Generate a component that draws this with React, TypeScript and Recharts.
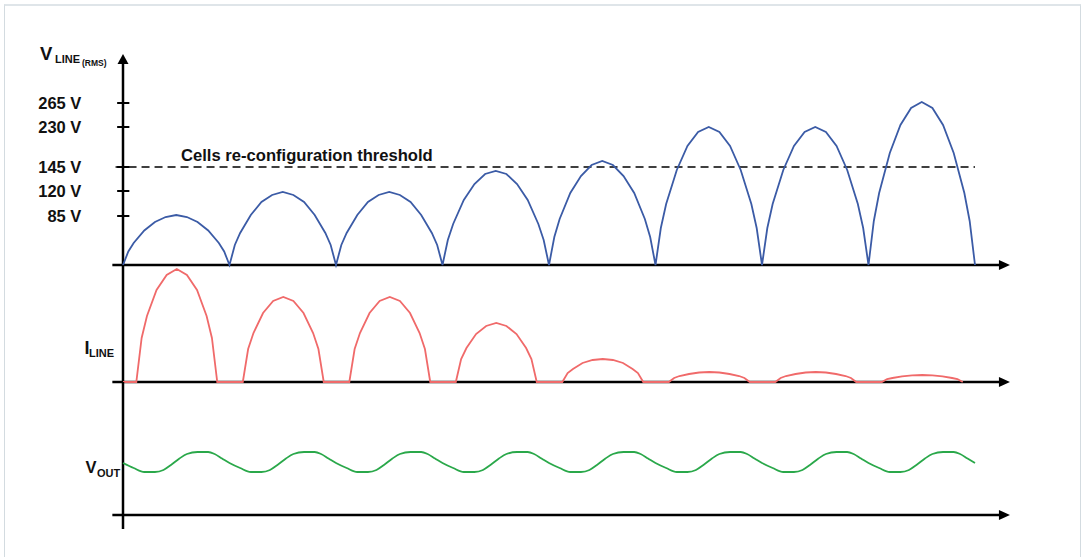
import React from 'react';
import { LineChart, Line, XAxis, YAxis, ReferenceLine, ReferenceDot, Label } from 'recharts';

// time runs in half-cycles of 10 units each, 8 half-cycles shown
const PERIOD = 10;

// V_LINE (rectified), one row per half-cycle, sampled at these offsets
const vLineOffsets = [0, 0.5, 1, 2, 3, 4, 5, 6, 7, 8, 9, 9.5, 10];
const vLineHumps = [
  [0, 13.5, 22, 34.5, 43, 48, 50, 48, 43, 34.5, 22, 13.5, 0],
  [0, 20, 32, 50, 63, 70, 73, 70, 63, 50, 32, 20, 0],
  [0, 20, 32, 50, 63, 70, 73, 70, 63, 50, 32, 20, 0],
  [0, 25, 41, 65, 81, 91, 94, 91, 81, 65, 41, 25, 0],
  [0, 28, 46, 72, 89, 100, 104, 100, 89, 72, 46, 28, 0],
  [0, 37, 61, 95, 119, 133, 138, 133, 119, 95, 61, 37, 0],
  [0, 37, 61, 95, 119, 133, 138, 133, 119, 95, 61, 37, 0],
  [0, 44, 72, 112, 140, 157, 163, 157, 140, 112, 72, 44, 0],
];

// I_LINE pulses, conducting only in the middle of each half-cycle
const iLineOffsets = [1.25, 1.75, 2.25, 3.15, 4.1, 5.05, 6.0, 6.95, 7.85, 8.35, 8.85];
const iLineHumps = [
  [0, 44, 66, 92, 107, 113, 107, 92, 66, 44, 0],
  [0, 33, 49, 69, 81, 85, 81, 69, 49, 33, 0],
  [0, 33, 49, 69, 81, 85, 81, 69, 49, 33, 0],
  [0, 23, 34, 48, 56, 59, 56, 48, 34, 23, 0],
  [0, 9, 13, 19, 22, 23, 22, 19, 13, 9, 0],
  [0, 4, 6, 8, 9.5, 10, 9.5, 8, 6, 4, 0],
  [0, 4, 6, 8, 9.5, 10, 9.5, 8, 6, 4, 0],
  [0, 3, 4, 5.7, 6.7, 7, 6.7, 5.7, 4, 3, 0],
];

// V_OUT ripple, one row per half-cycle
const vOutOffsets = [0, 1, 2, 3, 3.8, 4.5, 5.3, 6, 7, 8, 8.6, 9.3];
const vOutCycles = [
  [52, 47, 43, 43, 45, 50, 56.5, 61, 63, 63, 61, 56.5],
  [52, 47, 43, 43, 45, 50, 56.5, 61, 63, 63, 61, 56.5],
  [52, 47, 43, 43, 45, 50, 56.5, 61, 63, 63, 61, 56.5],
  [52, 47, 43, 43, 45, 50, 56.5, 61, 63, 63, 61, 56.5],
  [52, 47, 43, 43, 45, 50, 56.5, 61, 63, 63, 61, 56.5],
  [52, 47, 43, 43, 45, 50, 56.5, 61, 63, 63, 61, 56.5],
  [52, 47, 43, 43, 45, 50, 56.5, 61, 63, 63, 61, 56.5],
  [52, 47, 43, 43, 45, 50, 56.5, 61, 63, 63, 61, 56.5],
];
const vOutLast = 52;

// tick levels on the (non-linear) V_LINE axis
const vLineTicks = [49, 74, 98, 138, 162];
const vLineTickLabels = ['85 V', '120 V', '145 V', '230 V', '265 V'];
const thresholdLevel = 98;
const thresholdText = 'Cells re-configuration threshold';

const vLineData = vLineHumps.flatMap((hump, i) =>
  hump
    .map((v, k) => ({ t: i * PERIOD + vLineOffsets[k], v }))
    .filter((_, k) => i === 0 || k > 0)
);
const iLineData = [
  { t: 0, v: 0 },
  ...iLineHumps.flatMap((hump, i) => hump.map((v, k) => ({ t: i * PERIOD + iLineOffsets[k], v }))),
];
const vOutData = [
  ...vOutCycles.flatMap((cyc, i) => cyc.map((v, k) => ({ t: i * PERIOD + vOutOffsets[k], v }))),
  { t: vOutCycles.length * PERIOD, v: vOutLast },
];

const W = 1084;
const X_DOMAIN: [number, number] = [-1, 84];
const LEFT = 112.35;
const RIGHT = 66.4;
const AXIS_END = 82.4;
const ARROW_AT = 82.25;
const INK = '#111';
const font = 'Arial, "Liberation Sans", Helvetica, sans-serif';

const ArrowUp = ({ cx, cy }: any) => (
  <polygon points={`${cx - 5.5},${cy} ${cx + 5.5},${cy} ${cx},${cy - 10}`} fill="#000" />
);
const ArrowRight = ({ cx, cy }: any) => (
  <polygon points={`${cx},${cy - 5} ${cx},${cy + 5} ${cx + 11},${cy}`} fill="#000" />
);

const VLineTick = ({ x, y, payload }: any) => {
  const label = vLineTickLabels[vLineTicks.indexOf(payload.value)];
  return (
    <g>
      <text x={x - 31} y={y} dy="0.36em" textAnchor="end" fontSize={16.5} fontWeight="bold" fill={INK} fontFamily={font}>
        {label}
      </text>
      <line x1={x + 4.8} x2={x + 17} y1={y} y2={y} stroke="#000" strokeWidth={2} />
    </g>
  );
};

const VLineName = ({ viewBox }: any) => (
  <g fontFamily={font} fontWeight="bold" fill={INK}>
    <text x={viewBox.x - 83} y={viewBox.y - 4.5} fontSize={18.5}>V</text>
    <text x={viewBox.x - 68} y={viewBox.y - 1.5} fontSize={11}>LINE</text>
    <text x={viewBox.x - 41} y={viewBox.y + 1.5} fontSize={8.5}>(RMS)</text>
  </g>
);
const ILineName = ({ viewBox }: any) => (
  <g fontFamily={font} fontWeight="bold" fill={INK}>
    <text x={viewBox.x - 38.5} y={viewBox.y + 89} fontSize={18}>I</text>
    <text x={viewBox.x - 34} y={viewBox.y + 92} fontSize={11}>LINE</text>
  </g>
);
const VOutName = ({ viewBox }: any) => (
  <g fontFamily={font} fontWeight="bold" fill={INK}>
    <text x={viewBox.x - 37.5} y={viewBox.y + 91} fontSize={16.5}>V</text>
    <text x={viewBox.x - 26} y={viewBox.y + 94.5} fontSize={11}>OUT</text>
  </g>
);
const ThresholdLabel = ({ viewBox }: any) => (
  <text x={viewBox.x + 65.5} y={viewBox.y - 6} fontSize={16.6} fontWeight="bold" fill={INK} fontFamily={font}>
    {thresholdText}
  </text>
);

const baseAxis = (bottom: number) => (
  <ReferenceLine
    segment={[{ x: -1, y: bottom }, { x: AXIS_END, y: bottom }]}
    stroke="#000"
    strokeWidth={2.5}
  />
);

export default function App() {
  return (
    <div style={{ position: 'absolute', left: 0, top: 0, width: W, height: 557, background: '#fff', overflow: 'hidden' }}>
      <div
        style={{
          position: 'absolute',
          left: 4,
          top: 4,
          width: 1075,
          height: 600,
          borderTop: '2px solid #dfe5e9',
          borderLeft: '1px solid #d3dbe0',
          borderRight: '1px solid #d3dbe0',
        }}
      />

      {/* V_LINE panel */}
      <div style={{ position: 'absolute', left: 0, top: 0 }}>
        <LineChart width={W} height={270} data={vLineData} margin={{ top: 64, right: RIGHT, bottom: 5, left: 0 }}>
          <XAxis type="number" dataKey="t" domain={X_DOMAIN} hide />
          <YAxis
            type="number"
            domain={[0, 201]}
            width={LEFT}
            ticks={vLineTicks}
            interval={0}
            axisLine={false}
            tickLine={false}
            tickSize={0}
            tickMargin={0}
            tick={<VLineTick />}
          />
          <ReferenceLine x={0} stroke="#000" strokeWidth={2.5}>
            <Label content={<VLineName />} />
          </ReferenceLine>
          <ReferenceDot x={0} y={201} r={0} shape={<ArrowUp />} />
          {baseAxis(0)}
          <ReferenceDot x={ARROW_AT} y={0} r={0} shape={<ArrowRight />} />
          <ReferenceLine
            segment={[{ x: -0.7, y: thresholdLevel }, { x: 80, y: thresholdLevel }]}
            stroke="#000"
            strokeWidth={1.5}
            strokeDasharray="8 5"
          >
            <Label content={<ThresholdLabel />} />
          </ReferenceLine>
          <Line
            type="linear"
            dataKey="v"
            stroke="#3b5ba6"
            strokeWidth={1.8}
            dot={false}
            activeDot={false}
            isAnimationActive={false}
          />
        </LineChart>
      </div>

      {/* I_LINE panel */}
      <div style={{ position: 'absolute', left: 0, top: 260 }}>
        <LineChart width={W} height={130} data={iLineData} margin={{ top: 5, right: RIGHT, bottom: 8, left: LEFT }}>
          <XAxis type="number" dataKey="t" domain={X_DOMAIN} hide />
          <YAxis type="number" domain={[0, 117]} hide />
          <ReferenceLine x={0} stroke="#000" strokeWidth={2.5}>
            <Label content={<ILineName />} />
          </ReferenceLine>
          {baseAxis(0)}
          <ReferenceDot x={ARROW_AT} y={0} r={0} shape={<ArrowRight />} />
          <Line
            type="linear"
            dataKey="v"
            stroke="#f06a6a"
            strokeWidth={1.8}
            dot={false}
            activeDot={false}
            isAnimationActive={false}
          />
        </LineChart>
      </div>

      {/* V_OUT panel */}
      <div style={{ position: 'absolute', left: 0, top: 377 }}>
        <LineChart width={W} height={161} data={vOutData} margin={{ top: 5, right: RIGHT, bottom: 9, left: LEFT }}>
          <XAxis type="number" dataKey="t" domain={X_DOMAIN} hide />
          <YAxis type="number" domain={[-14, 133]} hide />
          <ReferenceLine x={0} stroke="#000" strokeWidth={2.5}>
            <Label content={<VOutName />} />
          </ReferenceLine>
          {baseAxis(0)}
          <ReferenceDot x={ARROW_AT} y={0} r={0} shape={<ArrowRight />} />
          <Line
            type="monotone"
            dataKey="v"
            stroke="#2aa84a"
            strokeWidth={1.8}
            dot={false}
            activeDot={false}
            isAnimationActive={false}
          />
        </LineChart>
      </div>
    </div>
  );
}
